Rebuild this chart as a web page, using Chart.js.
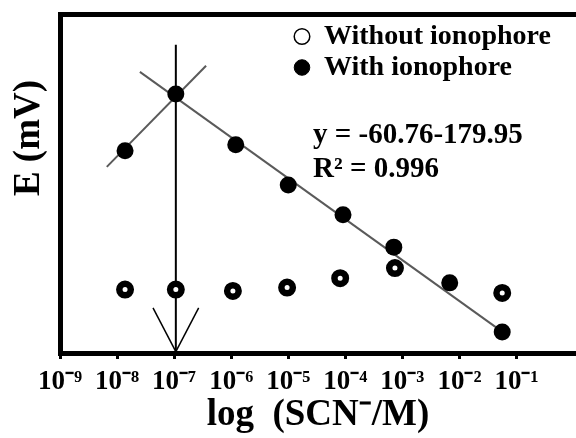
<!DOCTYPE html>
<html>
<head>
<meta charset="utf-8">
<script src="https://cdn.jsdelivr.net/npm/chart.js@4.4.0/dist/chart.umd.min.js"></script>
<style>
html,body{margin:0;padding:0;background:#fff;overflow:hidden}
#wrap{width:576px;height:438px}
</style>
</head>
<body>
<div id="wrap"><canvas id="c" width="576" height="438"></canvas></div>
<script>
// ---- data (x = log10 of SCN- concentration, y = E in mV) ----
const xTickValues = [-9, -8, -7, -6, -5, -4, -3, -2, -1];
const xTickLabels = ['10⁻⁹', '10⁻⁸', '10⁻⁷', '10⁻⁶', '10⁻⁵', '10⁻⁴', '10⁻³', '10⁻²', '10⁻¹'];
const legendLabels = ['Without ionophore', 'With ionophore'];

const withoutLogC = [-7.86, -6.97, -5.97, -5.02, -4.09, -3.13, -1.25];
const withoutE    = [-49, -49, -51, -46, -32, -17, -54];

const withLogC = [-7.86, -6.97, -5.92, -5.00, -4.04, -3.15, -2.17, -1.25];
const withE    = [157, 241, 166, 106, 62, 14, -39, -112];

const fitLogC = [-7.60, -1.29];
const fitE    = [274, -109];
const lowLogC = [-8.18, -6.44];
const lowE    = [133, 283];

const arrowLogC = [-6.97, -6.97];
const arrowE    = [314, -143];
const arrowLeftLogC  = [-7.37, -6.97];
const arrowRightLogC = [-6.57, -6.97];
const arrowArmE      = [-76, -141];

const eqText = 'y = -60.76-179.95';
const r2Text = 'R² = 0.996';
const yTitle = 'E (mV)';
const xTitle = 'log  (SCN⁻/M)';

const pts = (xs, ys) => xs.map((x, i) => ({x: x, y: ys[i]}));
const SERIF = '"Liberation Serif", "Times New Roman", serif';

const lineDs = (label, xs, ys, color, w) => ({
  label: label, data: pts(xs, ys), showLine: true, borderColor: color,
  borderWidth: w, pointRadius: 0, fill: false, backgroundColor: color
});

const extraText = {
  id: 'extraText',
  afterLayout(chart) {
    const lg = chart.legend;
    if (lg) { lg.left = 291; lg.top = 19.5; lg.right = 576; lg.bottom = 353; }
  },
  afterDraw(chart) {
    const ctx = chart.ctx;
    ctx.save();
    ctx.fillStyle = '#000';
    ctx.font = 'bold 37px ' + SERIF;
    ctx.translate(29, 138);
    ctx.rotate(-Math.PI / 2);
    ctx.textAlign = 'center';
    ctx.textBaseline = 'middle';
    ctx.fillText(yTitle, 0, 0);
    ctx.restore();

    ctx.save();
    ctx.fillStyle = '#000';
    ctx.font = 'bold 29px ' + SERIF;
    ctx.textAlign = 'left';
    ctx.textBaseline = 'alphabetic';
    ctx.fillText(eqText, 313, 143);
    ctx.fillText(r2Text, 313, 177);
    ctx.restore();
  }
};

new Chart(document.getElementById('c'), {
  type: 'scatter',
  data: {
    datasets: [
      { label: legendLabels[0], data: pts(withoutLogC, withoutE), backgroundColor: '#fff',
        borderColor: '#000', borderWidth: 6.5, pointRadius: 5.75, pointHoverRadius: 5.75 },
      { label: legendLabels[1], data: pts(withLogC, withE), backgroundColor: '#000',
        borderColor: '#000', borderWidth: 0, pointRadius: 8.5, pointHoverRadius: 8.5 },
      lineDs('fit', fitLogC, fitE, '#5a5a5a', 2),
      lineDs('low', lowLogC, lowE, '#5a5a5a', 2),
      lineDs('arrow', arrowLogC, arrowE, '#000', 2),
      lineDs('arrowL', arrowLeftLogC, arrowArmE, '#000', 1.5),
      lineDs('arrowR', arrowRightLogC, arrowArmE, '#000', 1.5)
    ]
  },
  options: {
    responsive: false,
    animation: false,
    devicePixelRatio: 1,
    layout: { autoPadding: false, padding: { left: 60, top: 14.5, right: 0, bottom: 4.5 } },
    plugins: {
      tooltip: { enabled: false },
      legend: {
        display: true,
        position: 'chartArea',
        align: 'start',
        labels: {
          usePointStyle: true,
          boxWidth: 16,
          boxHeight: 11,
          padding: 3,
          color: '#000',
          font: { family: SERIF, weight: 'bold', size: 28 },
          generateLabels: () => [
            { text: legendLabels[0], fillStyle: '#fff', strokeStyle: '#000', lineWidth: 1.5,
              pointStyle: 'circle', hidden: false, datasetIndex: 0, fontColor: '#000' },
            { text: legendLabels[1], fillStyle: '#000', strokeStyle: '#000', lineWidth: 1,
              pointStyle: 'circle', hidden: false, datasetIndex: 1, fontColor: '#000' }
          ]
        }
      }
    },
    scales: {
      x: {
        type: 'linear', position: 'bottom', min: -9, max: 0.043,
        afterBuildTicks: (s) => { s.ticks = xTickValues.map(v => ({ value: v })); },
        ticks: {
          autoSkip: false, maxRotation: 0, padding: 10, color: '#000',
          font: { family: SERIF, weight: 'bold', size: 27, lineHeight: 1 },
          callback: (v) => { const i = xTickValues.indexOf(v); return i >= 0 ? xTickLabels[i] : ''; }
        },
        grid: { display: true, drawOnChartArea: false, drawTicks: true, tickLength: 6, lineWidth: 3, color: '#000' },
        border: { display: true, width: 5, color: '#000' },
        title: { display: true, text: xTitle, color: '#000',
          font: { family: SERIF, weight: 'bold', size: 37, lineHeight: 1 },
          padding: { top: -9.5, bottom: 0 } }
      },
      xTop: {
        type: 'linear', position: 'top', min: -9, max: 0.043, display: true,
        ticks: { display: false },
        grid: { display: false, drawTicks: false },
        border: { display: true, width: 5, color: '#000' }
      },
      y: {
        type: 'linear', min: -143, max: 359, display: true,
        ticks: { display: false },
        grid: { display: false, drawTicks: false },
        border: { display: true, width: 5, color: '#000' }
      }
    }
  },
  plugins: [extraText]
});
</script>
</body>
</html>
